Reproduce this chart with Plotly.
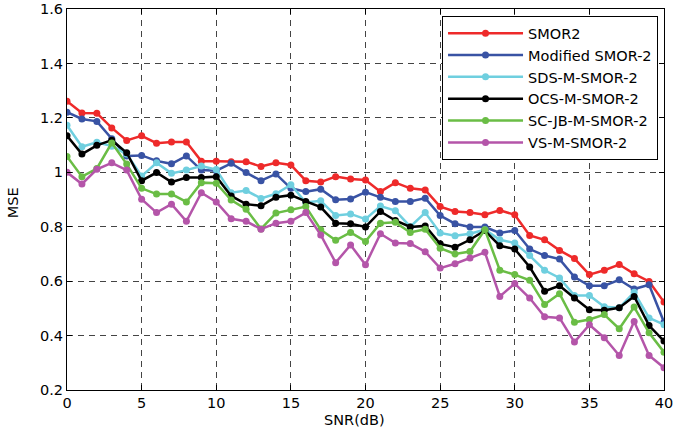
import plotly.graph_objects as go

snr = list(range(0, 41))
smor2 = [1.261,1.218,1.217,1.163,1.117,1.134,1.107,1.111,1.111,1.041,1.041,1.039,1.039,1.021,1.035,1.027,0.969,0.964,0.984,0.975,0.972,0.929,0.962,0.941,0.935,0.874,0.856,0.852,0.844,0.86,0.844,0.768,0.752,0.713,0.683,0.624,0.64,0.661,0.627,0.599,0.523]
modified = [1.221,1.196,1.187,1.123,1.06,1.062,1.042,1.031,1.06,1.008,1.006,1.033,0.999,0.969,0.994,0.941,0.929,0.938,0.899,0.902,0.927,0.908,0.893,0.893,0.905,0.841,0.811,0.799,0.799,0.777,0.786,0.718,0.694,0.681,0.615,0.583,0.583,0.605,0.571,0.587,0.449]
sds = [1.173,1.094,1.11,1.096,1.067,0.986,1.035,0.996,1.008,1.023,1.01,0.925,0.933,0.904,0.921,0.954,0.889,0.895,0.841,0.847,0.828,0.876,0.859,0.8,0.852,0.777,0.767,0.774,0.789,0.752,0.74,0.694,0.64,0.612,0.547,0.547,0.506,0.502,0.559,0.465,0.44]
ocs = [1.134,1.067,1.099,1.118,1.072,0.969,0.999,0.964,0.981,0.981,0.984,0.913,0.883,0.877,0.908,0.916,0.893,0.872,0.813,0.811,0.799,0.856,0.823,0.799,0.803,0.737,0.725,0.752,0.786,0.73,0.718,0.652,0.563,0.583,0.538,0.495,0.493,0.502,0.544,0.437,0.38]
scjb = [1.058,0.984,1.014,1.108,1.03,0.941,0.92,0.92,0.891,0.962,0.96,0.898,0.864,0.792,0.85,0.862,0.874,0.789,0.75,0.779,0.746,0.813,0.816,0.779,0.791,0.721,0.7,0.709,0.789,0.64,0.624,0.603,0.514,0.554,0.449,0.459,0.477,0.425,0.505,0.41,0.339]
vs = [1.0,0.957,1.011,1.035,1.008,0.901,0.852,0.883,0.82,0.925,0.891,0.829,0.82,0.791,0.813,0.82,0.852,0.77,0.668,0.733,0.66,0.774,0.74,0.738,0.708,0.648,0.664,0.685,0.706,0.544,0.591,0.538,0.469,0.465,0.376,0.44,0.392,0.327,0.452,0.327,0.282]

x_ticks = [0, 5, 10, 15, 20, 25, 30, 35, 40]
y_ticks = [0.2, 0.4, 0.6, 0.8, 1.0, 1.2, 1.4, 1.6]

names = ["SMOR2", "Modified SMOR-2", "SDS-M-SMOR-2", "OCS-M-SMOR-2", "SC-JB-M-SMOR-2", "VS-M-SMOR-2"]
series = [smor2, modified, sds, ocs, scjb, vs]
colors = ["#ee2a2a", "#3953a4", "#6fcfdf", "#000000", "#6abd45", "#b455a9"]

font = "DejaVu Sans, sans-serif"
fs = 14.5

fig = go.Figure()
for name, ys, c in zip(names, series, colors):
    fig.add_trace(go.Scatter(x=snr, y=ys, name=name, mode="lines+markers",
                             line=dict(color=c, width=2.5),
                             marker=dict(color=c, size=7)))

axis_common = dict(showline=True, linecolor="black", linewidth=1, mirror="ticks",
                   ticks="inside", ticklen=5, tickcolor="black",
                   showgrid=True, gridcolor="#444444", griddash="6px,5px", gridwidth=1,
                   zeroline=False, automargin=False,
                   tickfont=dict(family=font, size=fs, color="black"))

fig.update_xaxes(range=[0, 40], tickvals=x_ticks, **axis_common)
fig.update_yaxes(range=[0.2, 1.6], tickvals=y_ticks, **axis_common)

fig.add_annotation(text="SNR(dB)", xref="paper", yref="paper", x=0.481, y=-0.08,
                   xanchor="center", yanchor="middle", showarrow=False,
                   font=dict(family=font, size=fs, color="black"))
fig.add_annotation(text="MSE", xref="paper", yref="paper", x=-0.0905, y=0.493,
                   xanchor="center", yanchor="middle", showarrow=False, textangle=-90,
                   font=dict(family=font, size=fs, color="black"))

fig.update_layout(
    width=675, height=432,
    margin=dict(l=67, r=11, t=9, b=42),
    plot_bgcolor="white", paper_bgcolor="white",
    font=dict(family=font, size=fs, color="black"),
    legend=dict(x=0.99, y=0.981, xanchor="right", yanchor="top",
                bgcolor="white", bordercolor="black", borderwidth=1,
                font=dict(family=font, size=14.5, color="black"),
                tracegroupgap=0, itemwidth=75),
)

fig.write_html("out.html", config={"displayModeBar": False},
               post_script="document.body.style.margin='0';document.body.style.padding='0';")
